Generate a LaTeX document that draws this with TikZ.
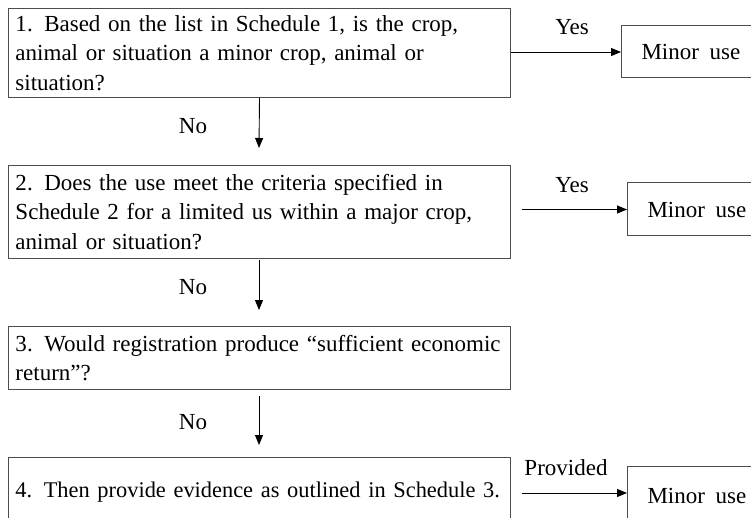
\documentclass[tikz,border=0pt]{standalone}
\usepackage{fontspec}
\setmainfont{Liberation Serif}
\usetikzlibrary{arrows.meta}
\newcommand{\jline}[1]{\leavevmode\hbox to 488pt{#1}}
\begin{document}
\begin{tikzpicture}[x=1pt,y=-1pt,
  txt/.style={font=\fontsize{23}{29.5}\selectfont},
  box/.style={txt, draw=black!70, line width=1pt, inner ysep=0pt, inner xsep=7pt, text width=488pt, align=left},
  minor/.style={txt, draw=black!70, line width=1pt, inner ysep=0pt, inner xsep=20pt, text width=130pt, align=left, anchor=west},
  lbl/.style={txt, inner sep=0pt},
  arr/.style={-{Triangle[length=10pt,width=8pt]}, line width=0.9pt}]
\useasboundingbox (0,0) rectangle (751,518);
\begin{scope}
\clip (0,0) rectangle (751,518);
% main boxes
\node[box, minimum height=89pt, anchor=north west] (b1) at (8,8)
  {1. Based on the list in Schedule 1, is the crop,\\animal or situation a minor crop, animal or\\situation?};
\node[box, minimum height=93pt, anchor=north west] (b2) at (8,165)
  {\jline{2. Does the use meet the criteria specified in}\\
   \jline{Schedule 2 for a limited us within a major crop,}\\
   animal or situation?};
\node[box, minimum height=63pt, anchor=north west] (b3) at (8,326)
  {\jline{3. Would registration produce “sufficient economic}\\
   return”?};
\node[box, minimum height=70pt, anchor=north west] (b4) at (8,457)
  {\fontsize{22.4}{29.5}\selectfont\jline{4. Then provide evidence as outlined in Schedule 3.}};
% minor use boxes
\node[minor, minimum height=52pt] (m1) at (621,52) {Minor\hspace{3pt} use};
\node[minor, minimum height=53pt] (m2) at (627,209.5) {Minor\hspace{3pt} use};
\node[minor, minimum height=60pt] (m3) at (627,496) {Minor\hspace{3pt} use};
% free ends
\coordinate (s2) at (522,209.5);
\coordinate (s3) at (522,493);
\coordinate (d1) at (259,148);
\coordinate (a2) at (259,260);
\coordinate (d2) at (259,310);
\coordinate (a3) at (259,396);
\coordinate (d3) at (259,445);
% connectors
\draw[arr] (m1.west -| b1.east) -- (m1.west);
\draw[arr] (s2) -- (s2 -| m2.west);
\draw[arr] (s3) -- (s3 -| m3.west);
\draw[arr] (b1.south) -- (d1);
\draw[arr] (a2) -- (d2);
\draw[arr] (a3) -- (d3);
% labels
\node[lbl] (y1) at (572,27) {Yes};
\node[lbl] (y2) at (572,185) {Yes};
\node[lbl] (pr) at (566,468) {Provided};
\node[lbl] (n1) at (193,126) {No};
\node[lbl] (n2) at (193,287) {No};
\node[lbl] (n3) at (193,422) {No};
\end{scope}
\end{tikzpicture}
\end{document}
